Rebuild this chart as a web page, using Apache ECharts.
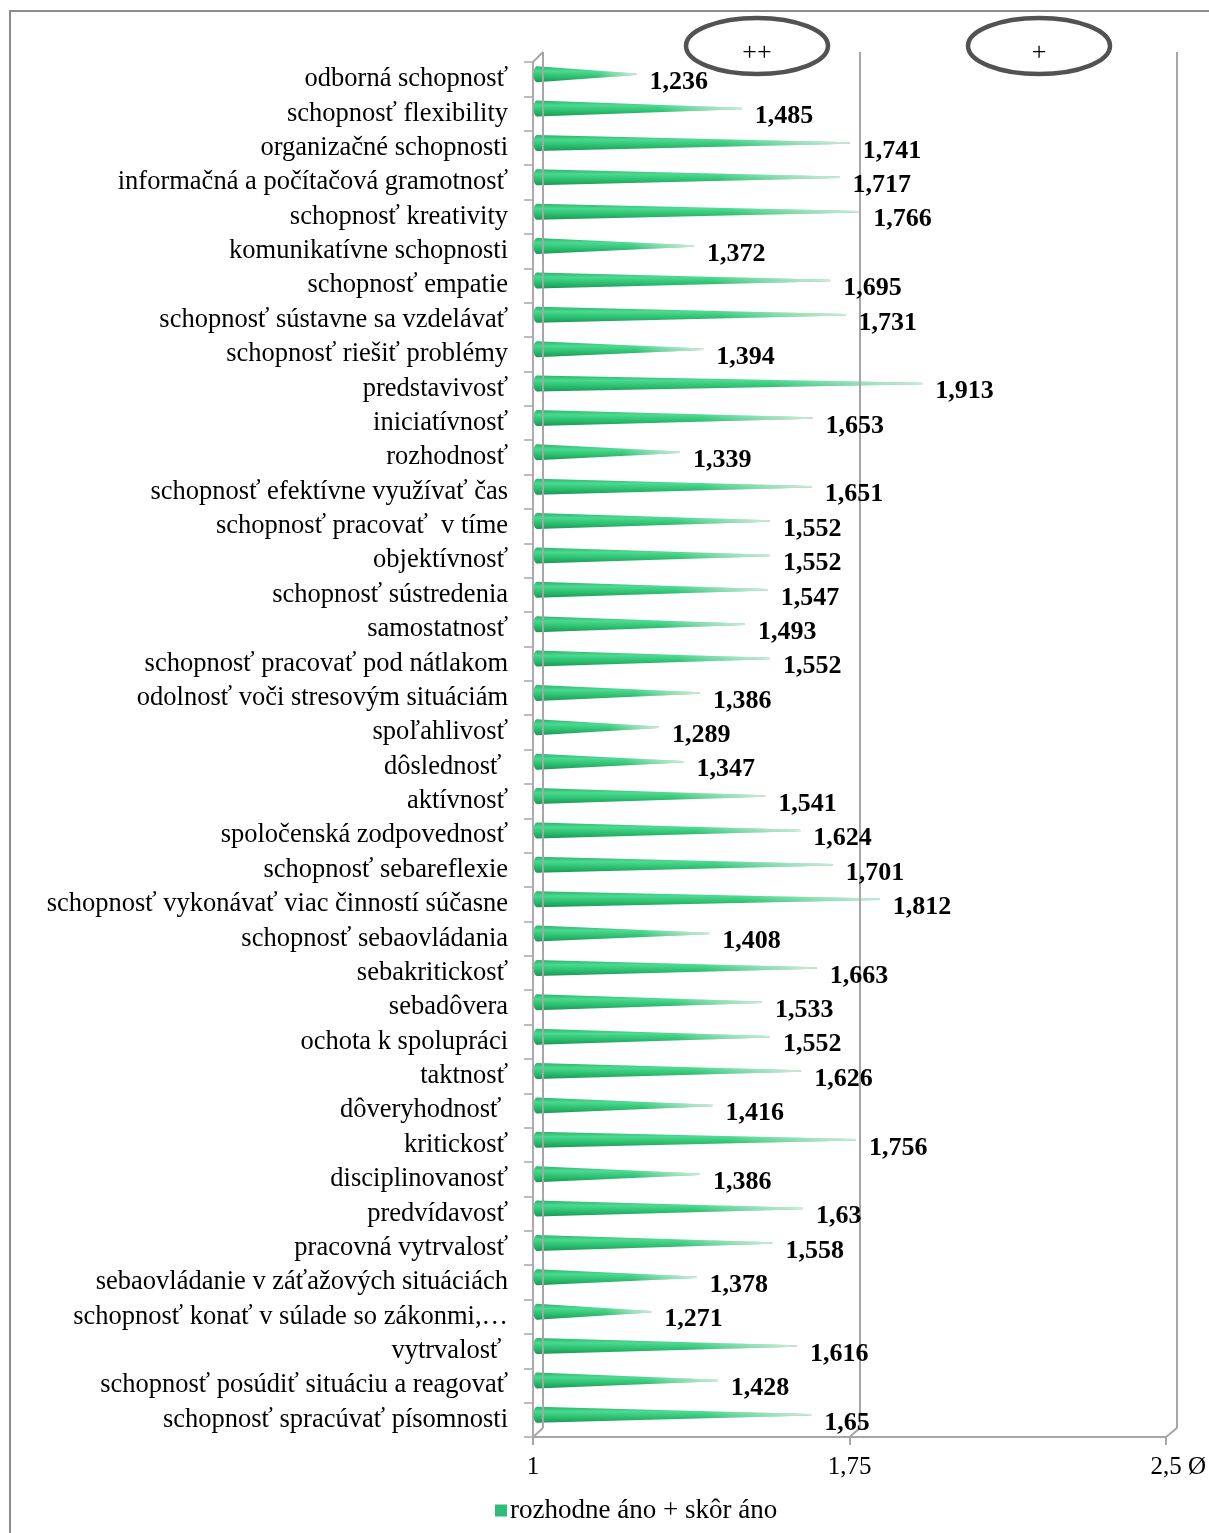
<!DOCTYPE html>
<html><head><meta charset="utf-8">
<script src="https://cdn.jsdelivr.net/npm/echarts@6/dist/echarts.min.js"></script>
<style>html,body{margin:0;padding:0;background:#fff}#c{width:1209px;height:1533px}</style>
</head><body><div id="c"></div>
<script>
const categories = [
  'odborná schopnosť', 'schopnosť flexibility', 'organizačné schopnosti',
  'informačná a počítačová gramotnosť', 'schopnosť kreativity', 'komunikatívne schopnosti',
  'schopnosť empatie', 'schopnosť sústavne sa vzdelávať', 'schopnosť riešiť problémy',
  'predstavivosť', 'iniciatívnosť', 'rozhodnosť', 'schopnosť efektívne využívať čas',
  'schopnosť pracovať  v tíme', 'objektívnosť', 'schopnosť sústredenia', 'samostatnosť',
  'schopnosť pracovať pod nátlakom', 'odolnosť voči stresovým situáciám', 'spoľahlivosť',
  'dôslednosť ', 'aktívnosť', 'spoločenská zodpovednosť', 'schopnosť sebareflexie',
  'schopnosť vykonávať viac činností súčasne', 'schopnosť sebaovládania', 'sebakritickosť',
  'sebadôvera', 'ochota k spolupráci', 'taktnosť', 'dôveryhodnosť ', 'kritickosť',
  'disciplinovanosť', 'predvídavosť', 'pracovná vytrvalosť',
  'sebaovládanie v záťažových situáciách', 'schopnosť konať v súlade so zákonmi,…',
  'vytrvalosť ', 'schopnosť posúdiť situáciu a reagovať', 'schopnosť spracúvať písomnosti'
];
const values = [
  1.236, 1.485, 1.741, 1.717, 1.766, 1.372, 1.695, 1.731, 1.394, 1.913,
  1.653, 1.339, 1.651, 1.552, 1.552, 1.547, 1.493, 1.552, 1.386, 1.289,
  1.347, 1.541, 1.624, 1.701, 1.812, 1.408, 1.663, 1.533, 1.552, 1.626,
  1.416, 1.756, 1.386, 1.63, 1.558, 1.378, 1.271, 1.616, 1.428, 1.65
];
const xTicks = [1, 1.75, 2.5];
const seriesName = 'rozhodne áno + skôr áno';
const marks = ['++', '+'];

const FONT = "'Liberation Serif', 'Times New Roman', serif";
const AXIS_GRAY = '#a6a6a6';
const fmt = v => String(v).replace('.', ',');

const chart = echarts.init(document.getElementById('c'), null, {renderer: 'canvas'});

function renderCone(params, api) {
  const val = api.value(0);
  const cat = api.value(1);
  const s = api.coord([xTicks[0], cat]);
  const e = api.coord([val, cat]);
  const dx = 4, dy = -5, h = 8;
  const sx = s[0] + dx, ex = e[0] + dx, y = s[1] + dy;
  const vGrad = new echarts.graphic.LinearGradient(0, 0, 0, 1, [
    {offset: 0, color: '#2bb36c'},
    {offset: 0.3, color: '#48d98f'},
    {offset: 0.6, color: '#2cc472'},
    {offset: 1, color: '#1b9656'}
  ]);
  const fade = new echarts.graphic.LinearGradient(0, 0, 1, 0, [
    {offset: 0, color: 'rgba(255,255,255,0)'},
    {offset: 0.6, color: 'rgba(235,245,240,0.05)'},
    {offset: 1, color: 'rgba(225,235,230,0.9)'}
  ]);
  const poly = [[sx, y - h], [ex, y - 0.7], [ex, y + 0.7], [sx, y + h]];
  return {
    type: 'group',
    children: [
      {type: 'polygon', shape: {points: poly}, style: {fill: vGrad}},
      {type: 'polygon', shape: {points: poly}, style: {fill: fade}},
      {type: 'ellipse', shape: {cx: sx, cy: y, rx: 3.5, ry: h}, style: {fill: vGrad}}
    ]
  };
}

function renderLabel(params, api) {
  const val = api.value(0);
  const cat = api.value(1);
  const e = api.coord([val, cat]);
  return {
    type: 'text', style: {
      x: e[0] + 17, y: e[1] + 3, text: fmt(val),
      font: 'bold 26px ' + FONT, fill: '#000',
      verticalAlign: 'middle', align: 'left'
    }
  };
}

const seriesData = values.map((v, i) => [v, i]);

const option = {
  animation: false,
  backgroundColor: '#fff',
  grid: [
    {left: 533, right: 42, top: 62, bottom: 96},
    {left: 543, right: 32, top: 52, bottom: 105}
  ],
  xAxis: [
    {
      type: 'value', gridIndex: 0, min: xTicks[0], max: xTicks[2], interval: 0.75,
      axisLine: {show: true, lineStyle: {color: AXIS_GRAY, width: 2}},
      axisTick: {show: true, length: 8, lineStyle: {color: AXIS_GRAY, width: 2}},
      splitLine: {show: false},
      axisLabel: {
        margin: 18, color: '#000', fontSize: 25, fontFamily: FONT,
        formatter: v => v === xTicks[2] ? '{g| Ø}' + fmt(v) + ' Ø' : fmt(v),
        rich: {g: {color: 'rgba(0,0,0,0)', fontSize: 25, fontFamily: FONT}}
      }
    },
    {
      type: 'value', gridIndex: 1, min: xTicks[0], max: xTicks[2], interval: 0.75, z: 4,
      axisLine: {show: false}, axisTick: {show: false}, axisLabel: {show: false},
      splitLine: {show: true, lineStyle: {color: AXIS_GRAY, width: 2}}
    }
  ],
  yAxis: [
    {
      type: 'category', gridIndex: 0, data: categories, inverse: true,
      axisLine: {show: true, lineStyle: {color: '#b3a9ad', width: 2}},
      axisTick: {show: true, length: 9, interval: 0, lineStyle: {color: '#a6a6a6', width: 1.5}},
      axisLabel: {margin: 25, interval: 0, hideOverlap: false, color: '#000',
        fontSize: 26.5, fontFamily: FONT, padding: [5, 0, 0, 0]},
      splitLine: {show: false}
    },
    {
      type: 'category', gridIndex: 1, data: categories, inverse: true,
      axisLine: {show: false}, axisTick: {show: false}, axisLabel: {show: false}
    }
  ],
  legend: {
    left: 490, top: 1492, icon: 'rect', itemWidth: 12, itemHeight: 12, itemGap: 4,
    textStyle: {fontSize: 27, fontFamily: FONT, color: '#000', padding: [0, 0, 0, -2]},
    data: [seriesName]
  },
  series: [
    {
      type: 'custom', name: seriesName, xAxisIndex: 0, yAxisIndex: 0,
      itemStyle: {color: '#2ebd78'},
      encode: {x: 0, y: 1},
      data: seriesData,
      renderItem: renderCone,
      z: 2
    },
    {
      type: 'custom', name: 'labels', xAxisIndex: 0, yAxisIndex: 0,
      encode: {x: 0, y: 1},
      data: seriesData,
      renderItem: renderLabel,
      z: 6
    }
  ]
};
chart.setOption(option);

// decorative frame, 3D edges and annotation ellipses
const gfx = [
  {type: 'rect', z: 0, shape: {x: 10, y: 11, width: 1300, height: 1600},
   style: {fill: 'none', stroke: '#8c8c8c', lineWidth: 2}}
];
const frontBottom = 1533 - 96, backBottom = 1533 - 105;
const lx0 = chart.convertToPixel({xAxisIndex: 0}, xTicks[0]);
const lx1 = chart.convertToPixel({xAxisIndex: 1}, xTicks[0]);
gfx.push({type: 'line', shape: {x1: lx0, y1: 62, x2: lx1, y2: 52},
  style: {stroke: AXIS_GRAY, lineWidth: 2}});
xTicks.forEach(t => {
  const fx = chart.convertToPixel({xAxisIndex: 0}, t);
  const bx = chart.convertToPixel({xAxisIndex: 1}, t);
  gfx.push({type: 'line', shape: {x1: fx, y1: frontBottom, x2: bx, y2: backBottom},
    style: {stroke: AXIS_GRAY, lineWidth: 2}});
});
const ellipses = [{cx: 757, text: marks[0]}, {cx: 1039, text: marks[1]}];
ellipses.forEach(el => {
  gfx.push({type: 'ellipse', z: 20, shape: {cx: el.cx, cy: 46, rx: 71, ry: 28},
    style: {fill: 'none', stroke: '#525252', lineWidth: 4.5}});
  gfx.push({type: 'text', z: 21, style: {x: el.cx, y: 53, text: el.text,
    font: '26px ' + FONT, fill: '#000', align: 'center', verticalAlign: 'middle'}});
});
chart.setOption({graphic: gfx});
</script>
</body></html>
